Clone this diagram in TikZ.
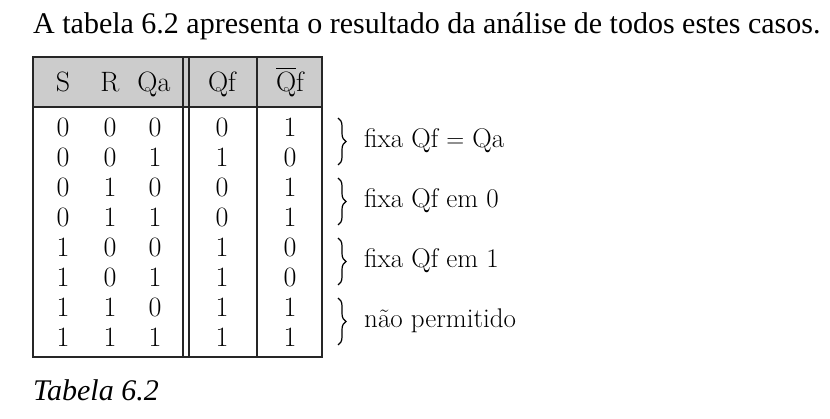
\documentclass[tikz,border=0pt]{standalone}
\usepackage{amsmath}
\usepackage{fontspec}
\newfontfamily\timesfont{Liberation Serif}
\usetikzlibrary{decorations.pathreplacing}

\tikzset{
  cell/.style={anchor=base, inner sep=0pt, font=\fontsize{28}{32}\selectfont},
  note/.style={anchor=base west, inner sep=0pt, font=\fontsize{27}{31}\selectfont},
  rule/.style={line width=1.6pt, black!85},
  curly/.style={decorate, decoration={brace, amplitude=8pt}, line width=1.2pt},
}

\begin{document}
\begin{tikzpicture}[x=1pt, y=-1pt]
  \useasboundingbox[fill=white] (0,0) rectangle (830,419);

  % Title line
  \node[anchor=base west, inner sep=0pt, font=\timesfont\fontsize{30}{34}\selectfont]
    (title) at (33,34) {A tabela 6.2 apresenta o resultado da análise de todos estes casos.};

  % Header shading
  \fill[gray!40] (33,57) rectangle (322,107);

  % Table frame
  \draw[rule] (33,57) rectangle (322,357);
  \draw[line width=2.6pt, black!85] (33,107) -- (322,107);
  \draw[rule] (183,57) -- (183,357);
  \draw[rule] (189,57) -- (189,357);
  \draw[rule] (257,57) -- (257,357);

  % Header
  \node[cell] (hs)  at (63,92)  {S};
  \node[cell] (hr)  at (110,92) {R};
  \node[cell] (hqa) at (154,92) {Qa};
  \node[cell] (hqf) at (222,92) {Qf};
  \node[cell] (hqn) at (290,92) {$\overline{\mbox{Q}}$f};

  % Rows
  \foreach \s/\r/\q/\f/\n [count=\i] in
      {0/0/0/0/1, 0/0/1/1/0, 0/1/0/0/1, 0/1/1/0/1,
       1/0/0/1/0, 1/0/1/1/0, 1/1/0/1/1, 1/1/1/1/1}
  {
    \pgfmathsetmacro\yb{137+30*(\i-1)}
    \node[cell] (s\i) at (63,\yb)  {\s};
    \node[cell] (r\i) at (110,\yb) {\r};
    \node[cell] (q\i) at (155,\yb) {\q};
    \node[cell] (f\i) at (222,\yb) {\f};
    \node[cell] (n\i) at (290,\yb) {\n};
  }

  % Braces and notes
  \foreach \txt [count=\i] in
      {fixa Qf $=$ Qa, fixa Qf em 0, fixa Qf em 1, não permitido}
  {
    \pgfmathsetmacro\yt{118+60*(\i-1)}
    \pgfmathsetmacro\ybt{165+60*(\i-1)}
    \pgfmathsetmacro\yl{148+60*(\i-1)}
    \coordinate (bt\i) at (338,\yt);
    \coordinate (bb\i) at (338,\ybt);
    \draw[curly] (bt\i) -- (bb\i);
    \node[note] (note\i) at (364,\yl) {\txt};
  }

  % Caption
  \node[anchor=base west, inner sep=0pt, font=\timesfont\itshape\fontsize{30}{34}\selectfont]
    (caption) at (33,401) {Tabela 6.2};
\end{tikzpicture}
\end{document}
